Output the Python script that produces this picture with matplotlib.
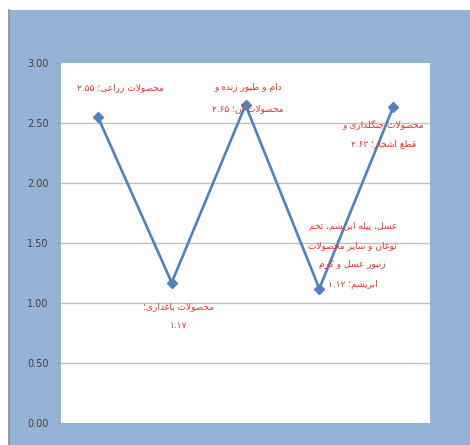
import re
import matplotlib
matplotlib.use("Agg")
import matplotlib.pyplot as plt
from matplotlib.patches import Rectangle

# data
categories = ["crops", "horticulture", "livestock", "honey_silk", "forestry"]
values = [2.55, 1.17, 2.65, 1.12, 2.63]
labels = [
    ["محصولات زراعی؛ ۲.۵۵"],
    ["محصولات باغداری؛", "۱.۱۷"],
    ["دام و طیور زنده و", "محصولات آن؛ ۲.۶۵"],
    ["عسل، پیله ابریشم، تخم", "نوغان و سایر محصولات", "زنبور عسل و کرم", "ابریشم؛ ۱.۱۲"],
    ["محصولات جنگلداری و", "قطع اشجار؛ ۲.۶۳"],
]
yticks = [0, 0.5, 1.0, 1.5, 2.0, 2.5, 3.0]

# matplotlib has no arabic shaping, so do a small one by hand
# letter: (isolated, final, initial, medial)
FORMS = {
    "ا": (0xFE8D, 0xFE8E, None, None), "آ": (0xFE81, 0xFE82, None, None),
    "ب": (0xFE8F, 0xFE90, 0xFE91, 0xFE92), "پ": (0xFB56, 0xFB57, 0xFB58, 0xFB59),
    "ت": (0xFE95, 0xFE96, 0xFE97, 0xFE98), "ج": (0xFE9D, 0xFE9E, 0xFE9F, 0xFEA0),
    "ح": (0xFEA1, 0xFEA2, 0xFEA3, 0xFEA4), "خ": (0xFEA5, 0xFEA6, 0xFEA7, 0xFEA8),
    "د": (0xFEA9, 0xFEAA, None, None), "ر": (0xFEAD, 0xFEAE, None, None),
    "ز": (0xFEAF, 0xFEB0, None, None), "س": (0xFEB1, 0xFEB2, 0xFEB3, 0xFEB4),
    "ش": (0xFEB5, 0xFEB6, 0xFEB7, 0xFEB8), "ص": (0xFEB9, 0xFEBA, 0xFEBB, 0xFEBC),
    "ط": (0xFEC1, 0xFEC2, 0xFEC3, 0xFEC4), "ع": (0xFEC9, 0xFECA, 0xFECB, 0xFECC),
    "غ": (0xFECD, 0xFECE, 0xFECF, 0xFED0), "ق": (0xFED5, 0xFED6, 0xFED7, 0xFED8),
    "ک": (0xFB8E, 0xFB8F, 0xFB90, 0xFB91), "گ": (0xFB92, 0xFB93, 0xFB94, 0xFB95),
    "ل": (0xFEDD, 0xFEDE, 0xFEDF, 0xFEE0), "م": (0xFEE1, 0xFEE2, 0xFEE3, 0xFEE4),
    "ن": (0xFEE5, 0xFEE6, 0xFEE7, 0xFEE8), "ه": (0xFEE9, 0xFEEA, 0xFEEB, 0xFEEC),
    "و": (0xFEED, 0xFEEE, None, None), "ی": (0xFBFC, 0xFBFD, 0xFBFE, 0xFBFF),
}
LAM_ALEF = {"ا": (0xFEFB, 0xFEFC), "آ": (0xFEF5, 0xFEF6)}


def joins_next(ch):
    return ch in FORMS and FORMS[ch][2] is not None


def shape(text):
    out = []
    i = 0
    n = len(text)
    while i < n:
        ch = text[i]
        if ch not in FORMS:
            out.append(ch)
            i += 1
            continue
        prev_join = i > 0 and joins_next(text[i - 1])
        if ch == "ل" and i + 1 < n and text[i + 1] in LAM_ALEF:
            iso, fin = LAM_ALEF[text[i + 1]]
            out.append(chr(fin if prev_join else iso))
            i += 2
            continue
        iso, fin, ini, med = FORMS[ch]
        next_join = ini is not None and i + 1 < n and text[i + 1] in FORMS
        if prev_join and next_join:
            out.append(chr(med))
        elif prev_join:
            out.append(chr(fin))
        elif next_join:
            out.append(chr(ini))
        else:
            out.append(chr(iso))
        i += 1
    vis = "".join(out)[::-1]
    # numbers stay left to right
    return re.sub(r"[۰-۹][۰-۹.]*", lambda m: m.group(0)[::-1], vis)


fig = plt.figure(figsize=(4.7, 4.45), dpi=100)
fig.patch.set_facecolor("white")
bg = Rectangle((9 / 470, 0), 1, 1 - 10 / 445, transform=fig.transFigure,
               facecolor="#95B3D7", edgecolor="none", zorder=-10)
fig.add_artist(bg)
edge = plt.Line2D([9 / 470, 9 / 470], [0, 1 - 10 / 445], transform=fig.transFigure,
                  color="#8C8C8C", lw=1.2, zorder=-9)
fig.add_artist(edge)

ax = fig.add_axes([61 / 470, 22 / 445, 369 / 470, 360 / 445])
ax.set_zorder(1)
ax.set_facecolor("white")
x = list(range(len(categories)))
ax.plot(x, values, color="#4F81BD", lw=1.9, marker="D", ms=5, zorder=3)

ax.set_xlim(-0.5, len(categories) - 0.5)
ax.set_ylim(0, 3)
ax.set_yticks(yticks)
ax.set_yticklabels(["%.2f" % v for v in yticks], fontsize=7, color="#404040")
ax.set_xticks([])
ax.tick_params(axis="y", length=4, color="#A6A6A6", pad=5)
for v in yticks[1:-1]:
    ax.axhline(v, color="#BFBFBF", lw=1, zorder=1)
for s in ax.spines.values():
    s.set_visible(False)

red = "#E0342C"
# label anchor offsets in points (dx, dy) relative to each marker
offsets = [(16.5, 21), (5, -24), (2, 4.5), (24, 24), (-7, -19)]
for xi, yi, lab, (dx, dy) in zip(x, values, labels, offsets):
    txt = "\n".join(shape(s) for s in lab)
    ax.annotate(txt, (xi, yi), xytext=(dx, dy), textcoords="offset points",
                ha="center", va="center", fontsize=6.5, color=red,
                linespacing=2.45, zorder=4)

fig.savefig("out.png", dpi=100)
